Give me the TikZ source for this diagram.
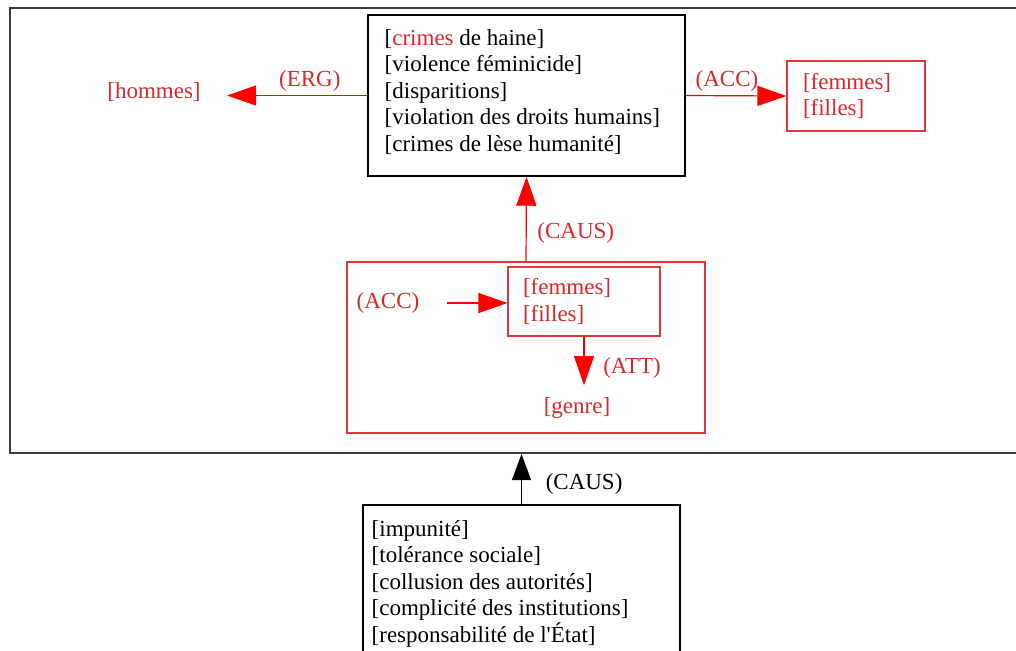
\documentclass[tikz,border=0pt]{standalone}
\usepackage{fontspec}
\setmainfont{Liberation Serif}
\usetikzlibrary{arrows.meta}

\definecolor{linered}{RGB}{255,0,0}
\definecolor{textred}{RGB}{215,40,40}
\definecolor{boxred}{RGB}{222,55,55}
\definecolor{framegray}{RGB}{60,60,60}

% bracketed term, safe after \\
\newcommand{\lexbr}[1]{{[}#1]}

\tikzset{
  blackbox/.style={draw=black, line width=0.7pt, inner sep=0pt},
  redbox/.style={draw=boxred, line width=0.6pt, text=textred, align=left},
  lbl/.style={text=textred},
  redarrow/.style={draw=linered, line width=0.6pt, -{Triangle[length=14.5pt,width=10pt]}},
  blackarrow/.style={draw=black, line width=0.6pt, -{Triangle[length=13pt,width=9.5pt]}},
}

\begin{document}
\begin{tikzpicture}[x=0.5pt, y=-0.5pt, font=\fontsize{11.5}{13.25}\selectfont]
    \useasboundingbox (0,0) rectangle (1016,650);
    \clip (0,0) rectangle (1016,650);

    % Outer frame, runs off the right edge
    \node[draw=framegray, line width=1pt, minimum width=515pt, minimum height=222.5pt] (outer) at (525,230.5) {};

    % Top box: the crimes
    \node[blackbox, minimum width=158.5pt, minimum height=80.5pt] (main) at (526.5,95.5) {};
    \node[anchor=north west, inner sep=0pt, align=left, xshift=8.5pt, yshift=-7.2pt] (maintxt) at (main.north west)
      {\lexbr{\textcolor{textred}{crimes} de haine}\\
       \lexbr{violence féminicide}\\
       \lexbr{disparitions}\\
       \lexbr{violation des droits humains}\\
       \lexbr{crimes de lèse humanité}};

    % Left and right of the top box
    \node[lbl, inner xsep=13pt] (hommes) at (154,92) {[hommes]};
    \node[redbox, minimum width=69pt, minimum height=35pt, text width=53pt, inner xsep=8pt] (femmes) at (856,96) {\lexbr{femmes}\\\lexbr{filles}};

    \draw[redarrow] (main.west) -- (main.west -| hommes.east) node[lbl, above, pos=0.41, inner sep=2pt] {(ERG)};
    \draw[redarrow] (main.east) -- (femmes.west) node[lbl, above, pos=0.41, inner sep=2pt] {(ACC)};

    % Red container in the middle
    \node[draw=boxred, line width=0.6pt, minimum width=179pt, minimum height=85.5pt] (container) at (526,347.5) {};
    \node[redbox, minimum width=76pt, minimum height=34.5pt, text width=61pt, inner xsep=7.5pt] (femin) at (584,301.5) {\lexbr{femmes}\\\lexbr{filles}};
    \node[lbl] (accin) at (388,303) {(ACC)};
    \node[lbl, inner sep=6pt] (genre) at (577,408) {[genre]};

    \draw[redarrow] (container.north) -- (main.south) node[lbl, right, pos=0.34, xshift=2pt] {(CAUS)};
    \draw[redarrow, shorten <=10.5pt] (accin.east) -- (accin.east -| femin.west);
    \draw[redarrow] (femin.south) -- (femin.south |- genre.north) node[lbl, right, pos=0.65, xshift=6pt] {(ATT)};

    % Bottom box: the causes, runs off the bottom edge
    \node[blackbox, minimum width=158.5pt, minimum height=80.5pt] (causes) at (521.5,585.5) {};
    \node[anchor=north west, inner sep=0pt, align=left, xshift=4.5pt, yshift=-7.8pt] (causestxt) at (causes.north west)
      {\lexbr{impunité}\\
       \lexbr{tolérance sociale}\\
       \lexbr{collusion des autorités}\\
       \lexbr{complicité des institutions}\\
       \lexbr{responsabilité de l\textquotesingle État}};

    \draw[blackarrow] (causes.north) -- (causes.north |- outer.south) node[right, pos=0.4, xshift=8.5pt] {(CAUS)};
\end{tikzpicture}
\end{document}
